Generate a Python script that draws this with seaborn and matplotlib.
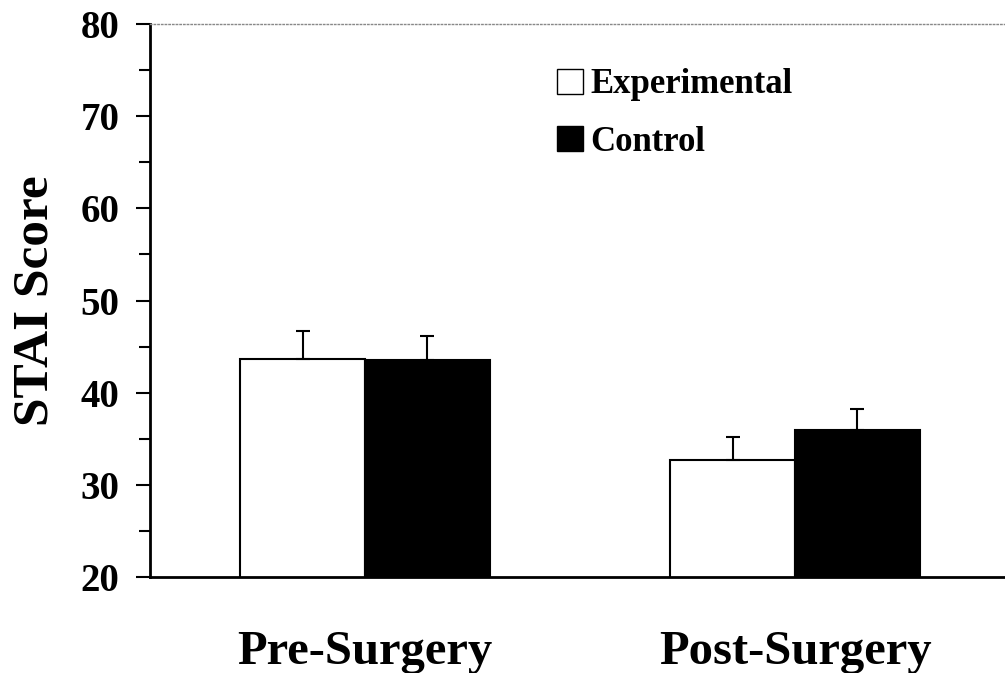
import numpy as np
import pandas as pd
import matplotlib
matplotlib.use("Agg")
import matplotlib.pyplot as plt
import seaborn as sns
from matplotlib.ticker import MultipleLocator
from matplotlib.patches import Patch

# data
phases = ["Pre-Surgery", "Post-Surgery"]
groups = ["Experimental", "Control"]
experimental_mean = [43.7, 32.7]
control_mean = [43.6, 35.9]
experimental_sem = [3.0, 2.5]
control_sem = [2.6, 2.3]

df = pd.DataFrame({
    "phase": phases * 2,
    "group": [groups[0]] * 2 + [groups[1]] * 2,
    "score": experimental_mean + control_mean,
    "sem": experimental_sem + control_sem,
})

sns.set_style("white")
plt.rcParams["font.family"] = ["Liberation Serif", "DejaVu Serif"]
plt.rcParams["font.weight"] = "bold"
plt.rcParams["text.color"] = "black"
plt.rcParams["axes.labelcolor"] = "black"
plt.rcParams["xtick.color"] = "black"
plt.rcParams["ytick.color"] = "black"

fig = plt.figure(figsize=(10.05, 6.73), dpi=100)
ax = fig.add_axes([0.1493, 0.1426, 0.8507, 0.8217])

sns.barplot(data=df, x="phase", y="score", hue="group", order=phases,
            hue_order=groups, palette=["white", "black"], edgecolor="black",
            linewidth=1.5, width=0.58, errorbar=None, legend=False, ax=ax)

# upward-only error bars, placed at the centre of each bar seaborn drew
for bars, grp in zip(ax.containers, groups):
    sub = df[df["group"] == grp].set_index("phase").loc[phases]
    xs = [b.get_x() + b.get_width() / 2 for b in bars]
    ax.errorbar(xs, sub["score"], yerr=[np.zeros(len(xs)), sub["sem"]],
                fmt="none", ecolor="black", elinewidth=1.5, capsize=5,
                capthick=1.5, zorder=5)

ax.set_ylim(20, 80)
ax.set_xlim(-0.5, 1.488)
ax.yaxis.set_major_locator(MultipleLocator(10))
ax.yaxis.set_minor_locator(MultipleLocator(5))
ax.tick_params(axis="y", which="major", direction="out", length=10, width=1.5,
               labelsize=28, pad=12, left=True)
ax.tick_params(axis="y", which="minor", direction="out", length=8, width=1.5,
               left=True)
ax.tick_params(axis="x", length=0, labelsize=35, pad=38)
for lab in ax.get_xticklabels() + ax.get_yticklabels():
    lab.set_fontweight("bold")

ax.set_xlabel("")
ax.set_ylabel("STAI Score", fontsize=37, fontweight="bold", labelpad=16)

for s in ["left", "bottom"]:
    ax.spines[s].set_color("black")
    ax.spines[s].set_linewidth(2)
ax.spines["right"].set_visible(False)
ax.spines["top"].set_color("#888888")
ax.spines["top"].set_linestyle(":")
ax.spines["top"].set_linewidth(1)

handles = [Patch(facecolor="white", edgecolor="black", linewidth=1),
           Patch(facecolor="black", edgecolor="black", linewidth=1)]
leg = ax.legend(handles, groups, loc="upper left", bbox_to_anchor=(0.46, 0.945),
                frameon=False, prop={"size": 25, "weight": "bold"},
                handlelength=0.75, handleheight=0.75, handletextpad=0.2,
                labelspacing=0.7, borderaxespad=0)

fig.savefig("out.png", dpi=100)
